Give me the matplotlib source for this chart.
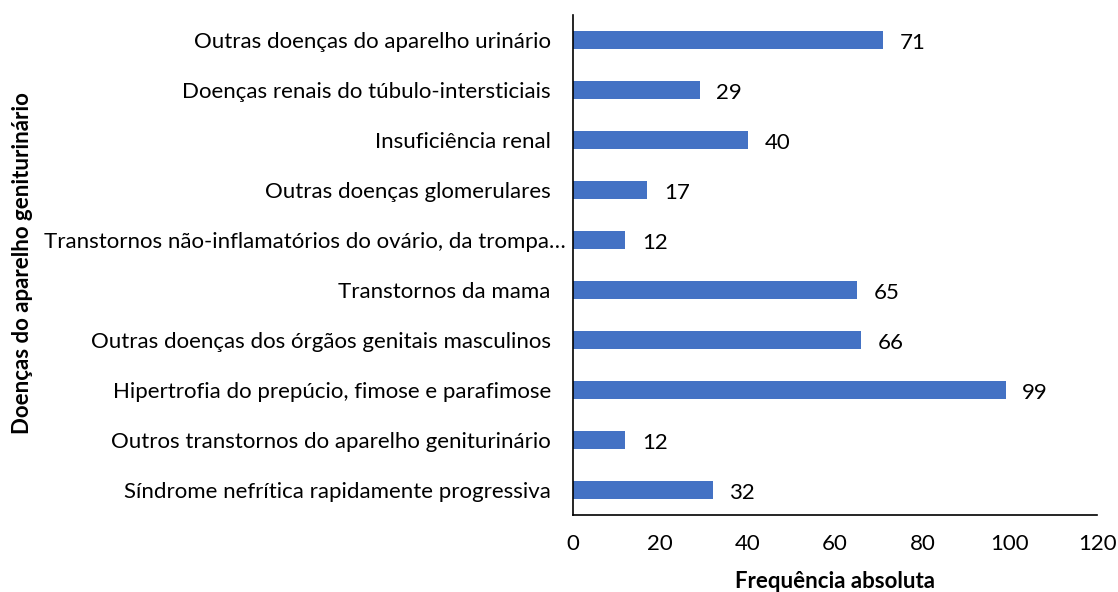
import matplotlib
matplotlib.use("Agg")
from matplotlib import pyplot as plt
from matplotlib import transforms as mtransforms

categories = [
    "Síndrome nefrítica rapidamente progressiva",
    "Outros transtornos do aparelho geniturinário",
    "Hipertrofia do prepúcio, fimose e parafimose",
    "Outras doenças dos órgãos genitais masculinos",
    "Transtornos da mama",
    "Transtornos não-inflamatórios do ovário, da trompa…",
    "Outras doenças glomerulares",
    "Insuficiência renal",
    "Doenças renais do túbulo-intersticiais",
    "Outras doenças do aparelho urinário",
]
values = [32, 12, 99, 66, 65, 12, 17, 40, 29, 71]
xticks = [0, 20, 40, 60, 80, 100, 120]

plt.rcParams["font.family"] = ["Lato", "DejaVu Sans"]
fs = 16

fig = plt.figure(figsize=(11.18, 5.92), dpi=100)
ax = fig.add_axes([0.5125, 0.130, 0.469, 0.845])

ypos = list(range(len(categories)))
bars = ax.barh(ypos, values, height=0.35, color="#4472C4")
for b, v in zip(bars, values):
    ax.annotate(str(v), (b.get_width(), b.get_y() + b.get_height() / 2),
                xytext=(12, -2), textcoords="offset points",
                ha="left", va="center", fontsize=fs, color="black")

ax.set_yticks(ypos)
ax.set_yticklabels(categories, fontsize=fs)
ax.set_ylim(-0.5, len(categories) - 0.5)
ax.set_xlim(0, 120)
ax.set_xticks(xticks)
ax.set_xticklabels([str(t) for t in xticks], fontsize=fs)
ax.tick_params(axis="both", length=0)
ax.tick_params(axis="y", pad=16)
ax.tick_params(axis="x", pad=14)

# the truncated label sits closer to the axis (like the Excel ellipsis)
for lbl in ax.get_yticklabels():
    if lbl.get_text().endswith("…"):
        lbl.set_transform(lbl.get_transform() + mtransforms.ScaledTranslation(0.15, 0, fig.dpi_scale_trans))

for s in ["top", "right"]:
    ax.spines[s].set_visible(False)
ax.spines["left"].set_linewidth(1.2)
ax.spines["bottom"].set_linewidth(1.2)

ax.set_xlabel("Frequência absoluta", fontsize=fs, fontweight="bold", labelpad=12)
fig.text(0.02, 0.555, "Doenças do aparelho geniturinário", rotation=90,
         fontsize=fs, fontweight="bold", ha="center", va="center")

fig.savefig("out.png", dpi=100)
